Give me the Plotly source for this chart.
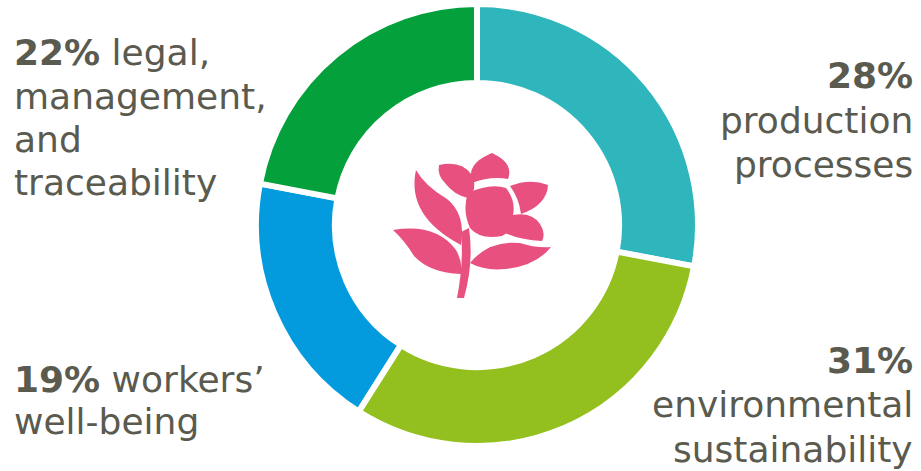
import plotly.graph_objects as go

W, H = 921, 471

# ---- data ----
categories = ["production processes", "environmental sustainability",
              "workers’ well-being", "legal, management, and traceability"]
values = [28, 31, 19, 22]
colors = ["#2fb6bd", "#93c01f", "#039bde", "#04a03c"]

# label lines (text after the bold percentage on the first line, then following lines)
label_lines = [
    ["", "production", "processes"],
    ["", "environmental", "sustainability"],
    [" workers’", "well-being"],
    [" legal,", "management,", "and", "traceability"],
]

TEXT_COLOR = "#5a5a4f"
FONT = "DejaVu Sans"
FS = 36

# ---- geometry (pixels) ----
cx, cy, R, stroke = 477, 225, 221, 6
fig = go.Figure()
fig.add_trace(go.Pie(
    labels=categories, values=values, sort=False, direction="clockwise",
    rotation=0, hole=0.643, textinfo="none", hoverinfo="label+percent",
    marker=dict(colors=colors, line=dict(color="white", width=stroke)),
    domain=dict(x=[(cx - R) / W, (cx + R) / W],
                y=[(H - cy - R) / H, (H - cy + R) / H]),
    showlegend=False,
))


def px(x, y):
    return x / W, 1 - y / H


def path(cmds):
    out = []
    for c in cmds:
        op, nums = c[0], c[1:]
        s = op
        for i in range(0, len(nums), 2):
            X, Y = px(nums[i], nums[i + 1])
            s += f" {X:.5f},{Y:.5f}"
        out.append(s)
    return " ".join(out) + " Z"


PINK = "#e8507f"
flower = [
    # top bud petal
    [("M", 472, 183), ("C", 467, 166, 480, 158, 492, 153), ("C", 503, 158, 513, 166, 508, 179),
     ("Q", 490, 176, 472, 183)],
    # right petal
    [("M", 510, 186), ("Q", 530, 178, 548, 185), ("Q", 547, 205, 521, 214), ("Q", 519, 198, 510, 186)],
    # main body
    [("M", 468, 193), ("Q", 490, 183, 506, 188), ("Q", 516, 201, 513, 215), ("Q", 516, 230, 502, 236),
     ("Q", 480, 240, 470, 228), ("Q", 462, 210, 468, 193)],
    # lower right petal
    [("M", 507, 216), ("Q", 531, 210, 540, 224), ("Q", 546, 234, 542, 241), ("Q", 520, 240, 505, 233),
     ("Q", 511, 223, 507, 216)],
    # upper left tall petal
    [("M", 439, 165), ("Q", 461, 160, 471, 174), ("Q", 479, 189, 468, 198), ("Q", 454, 195, 445, 183),
     ("Q", 437, 175, 439, 165)],
    # big left leaf
    [("M", 416, 170), ("Q", 406, 216, 461, 245), ("Q", 466, 214, 447, 199), ("Q", 425, 186, 416, 170)],
    # bottom left leaf
    [("M", 393, 230), ("Q", 436, 223, 456, 250), ("Q", 463, 262, 461, 274), ("Q", 430, 273, 414, 256),
     ("Q", 405, 241, 393, 230)],
    # bottom right leaf
    [("M", 470, 263), ("Q", 489, 240, 520, 243), ("Q", 535, 248, 551, 247), ("Q", 536, 266, 505, 269),
     ("Q", 485, 271, 470, 263)],
    # stem
    [("M", 469, 228), ("Q", 474, 262, 464, 298), ("L", 457, 298), ("Q", 464, 262, 461, 232)],
]
shapes = [dict(type="path", xref="paper", yref="paper", path=path(p),
               fillcolor=PINK, line=dict(width=0), layer="above") for p in flower]

# ---- labels ----
blocks = [
    dict(x=915, anchor="right", base=[88, 133, 177]),
    dict(x=915, anchor="right", base=[373, 417, 462]),
    dict(x=12, anchor="left", base=[392, 434]),
    dict(x=12, anchor="left", base=[65, 109, 152, 195]),
]
annotations = []
for v, lines, b in zip(values, label_lines, blocks):
    for i, (ln, base) in enumerate(zip(lines, b["base"])):
        txt = (f"<b>{v}%</b>" + ln) if i == 0 else ln
        X, Y = px(b["x"], base - 0.36 * FS)
        annotations.append(dict(
            x=X, y=Y, xref="paper", yref="paper", text=txt, showarrow=False,
            xanchor=b["anchor"], yanchor="middle", align=b["anchor"],
            font=dict(family=FONT, size=FS, color=TEXT_COLOR),
        ))

fig.update_layout(
    width=W, height=H, margin=dict(l=0, r=0, t=0, b=0),
    paper_bgcolor="white", plot_bgcolor="white",
    shapes=shapes, annotations=annotations,
)
fig.write_html("out.html", config={"displayModeBar": False},
               post_script="document.body.style.margin='0';")
